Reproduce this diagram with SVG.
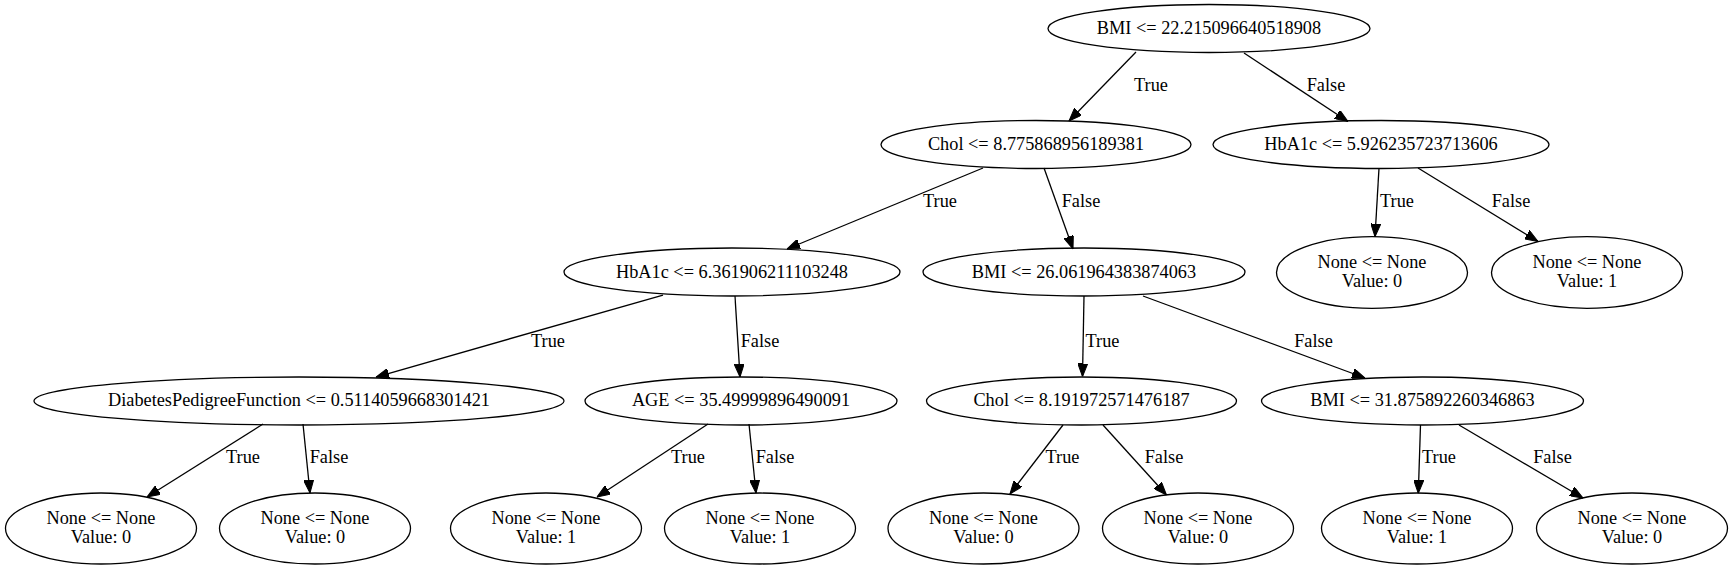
<svg xmlns="http://www.w3.org/2000/svg" width="1732" height="570" viewBox="0 0 1732 570">
<style>
.n ellipse{fill:none;stroke:#000;stroke-width:1.3}
text{font-family:"Liberation Serif","Times New Roman",serif;font-size:18.3px;fill:#000;text-anchor:middle}
.e line{stroke:#000;stroke-width:1.3;marker-end:url(#ah)}
</style>
<defs>
<marker id="ah" markerUnits="userSpaceOnUse" viewBox="0 0 13 10" refX="13" refY="5" markerWidth="13" markerHeight="10" orient="auto">
<path d="M0,0 L13,5 L0,10 z" fill="#000" stroke="#000" stroke-width="1"/>
</marker>
</defs>
<rect width="1732" height="570" fill="#fff"/>
<g class="e" id="edges">
<line x1="1136" y1="52" x2="1069" y2="121"/>
<line x1="1244" y1="53" x2="1348" y2="121.5"/>
<line x1="983" y1="168" x2="787" y2="249"/>
<line x1="1044" y1="168" x2="1073" y2="249"/>
<line x1="663" y1="295" x2="376" y2="377"/>
<line x1="735" y1="296" x2="740" y2="377"/>
<line x1="1084" y1="296" x2="1082.5" y2="376.5"/>
<line x1="1143" y1="296" x2="1365" y2="378"/>
<line x1="263" y1="424" x2="147" y2="497"/>
<line x1="303" y1="424" x2="310" y2="493"/>
<line x1="708" y1="424" x2="597" y2="497"/>
<line x1="749" y1="424" x2="756" y2="493"/>
<line x1="1063" y1="425" x2="1010" y2="494"/>
<line x1="1103" y1="425" x2="1166.5" y2="495"/>
<line x1="1420.5" y1="425" x2="1418.3" y2="493.3"/>
<line x1="1459" y1="425" x2="1583" y2="498"/>
<line x1="1379" y1="168" x2="1375" y2="236.7"/>
<line x1="1418" y1="168" x2="1538" y2="241.5"/>
<text x="1151" y="90.6">True</text>
<text x="1326" y="90.6">False</text>
<text x="940" y="207">True</text>
<text x="1081" y="207">False</text>
<text x="1397" y="207">True</text>
<text x="1511" y="207">False</text>
<text x="548" y="347">True</text>
<text x="760" y="347">False</text>
<text x="1102.5" y="347">True</text>
<text x="1313.5" y="347">False</text>
<text x="243" y="463">True</text>
<text x="329" y="463">False</text>
<text x="688" y="463">True</text>
<text x="775" y="463">False</text>
<text x="1062.5" y="463">True</text>
<text x="1164" y="463">False</text>
<text x="1439" y="463">True</text>
<text x="1552.5" y="463">False</text>
</g>
<g class="n" id="n0"><ellipse cx="1209" cy="28.5" rx="161" ry="24"/><text x="1209" y="34">BMI &lt;= 22.215096640518908</text></g>
<g class="n" id="n1"><ellipse cx="1036" cy="144.5" rx="155" ry="24"/><text x="1036" y="150">Chol &lt;= 8.775868956189381</text></g>
<g class="n" id="n2"><ellipse cx="1381" cy="144.5" rx="168" ry="24"/><text x="1381" y="150">HbA1c &lt;= 5.926235723713606</text></g>
<g class="n" id="n3"><ellipse cx="732" cy="272" rx="168" ry="24"/><text x="732" y="277.5">HbA1c &lt;= 6.361906211103248</text></g>
<g class="n" id="n4"><ellipse cx="1084" cy="272" rx="161" ry="24"/><text x="1084" y="277.5">BMI &lt;= 26.061964383874063</text></g>
<g class="n" id="n5"><ellipse cx="1372" cy="272.5" rx="95.5" ry="35.8"/><text x="1372" y="268">None &lt;= None</text><text x="1372" y="287">Value: 0</text></g>
<g class="n" id="n6"><ellipse cx="1587" cy="272.5" rx="95.5" ry="35.8"/><text x="1587" y="268">None &lt;= None</text><text x="1587" y="287">Value: 1</text></g>
<g class="n" id="n7"><ellipse cx="299" cy="401" rx="265" ry="24"/><text x="299" y="406">DiabetesPedigreeFunction &lt;= 0.5114059668301421</text></g>
<g class="n" id="n8"><ellipse cx="741" cy="401" rx="156" ry="24"/><text x="741" y="406">AGE &lt;= 35.49999896490091</text></g>
<g class="n" id="n9"><ellipse cx="1081.5" cy="401" rx="155" ry="24"/><text x="1081.5" y="406">Chol &lt;= 8.191972571476187</text></g>
<g class="n" id="n10"><ellipse cx="1422.5" cy="401" rx="161" ry="24"/><text x="1422.5" y="406">BMI &lt;= 31.875892260346863</text></g>
<g class="n" id="n11"><ellipse cx="101" cy="528.5" rx="95.5" ry="35.5"/><text x="101" y="524">None &lt;= None</text><text x="101" y="543">Value: 0</text></g>
<g class="n" id="n12"><ellipse cx="315" cy="528.5" rx="95.5" ry="35.5"/><text x="315" y="524">None &lt;= None</text><text x="315" y="543">Value: 0</text></g>
<g class="n" id="n13"><ellipse cx="546" cy="528.5" rx="95.5" ry="35.5"/><text x="546" y="524">None &lt;= None</text><text x="546" y="543">Value: 1</text></g>
<g class="n" id="n14"><ellipse cx="760" cy="528.5" rx="95.5" ry="35.5"/><text x="760" y="524">None &lt;= None</text><text x="760" y="543">Value: 1</text></g>
<g class="n" id="n15"><ellipse cx="983.5" cy="528.5" rx="95.5" ry="35.5"/><text x="983.5" y="524">None &lt;= None</text><text x="983.5" y="543">Value: 0</text></g>
<g class="n" id="n16"><ellipse cx="1198" cy="528.5" rx="95.5" ry="35.5"/><text x="1198" y="524">None &lt;= None</text><text x="1198" y="543">Value: 0</text></g>
<g class="n" id="n17"><ellipse cx="1417" cy="528.5" rx="95.5" ry="35.5"/><text x="1417" y="524">None &lt;= None</text><text x="1417" y="543">Value: 1</text></g>
<g class="n" id="n18"><ellipse cx="1632" cy="528.5" rx="95.5" ry="35.5"/><text x="1632" y="524">None &lt;= None</text><text x="1632" y="543">Value: 0</text></g>
</svg>
